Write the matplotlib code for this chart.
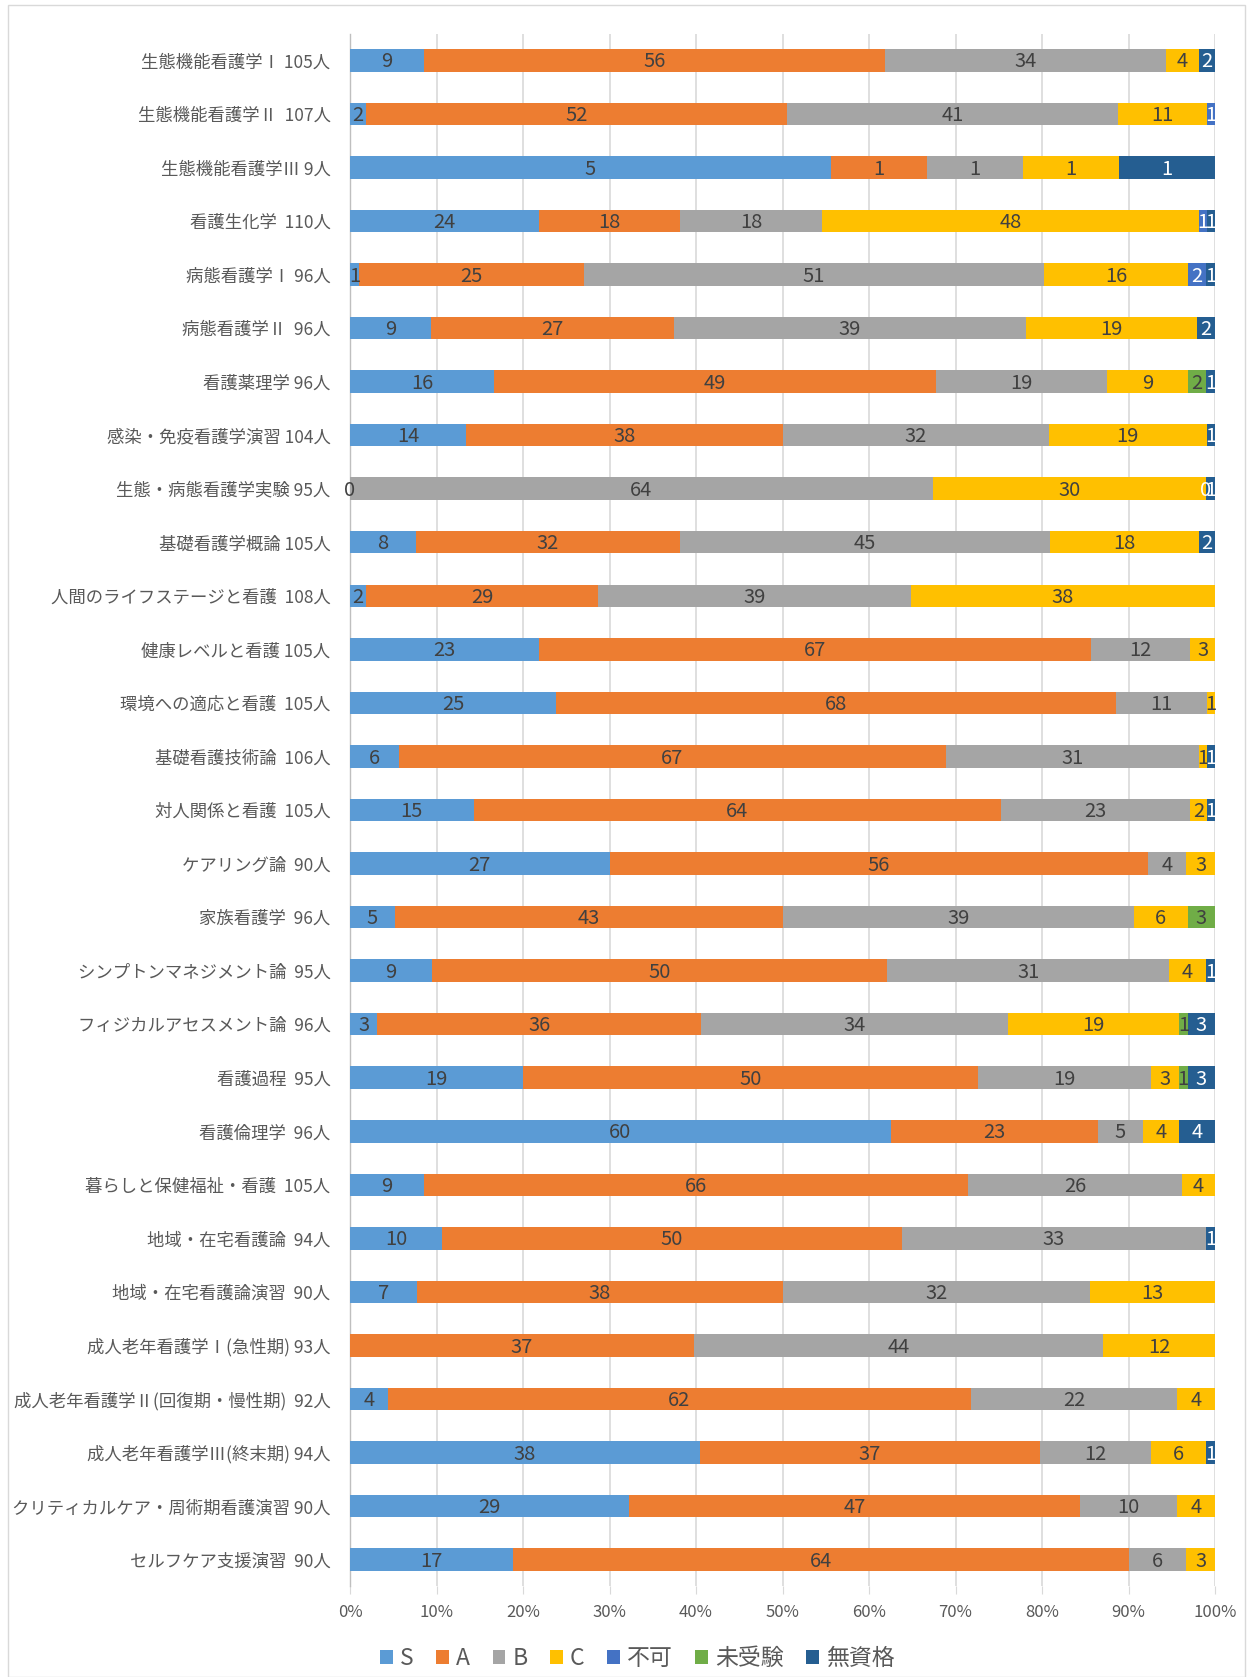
import matplotlib
matplotlib.use("Agg")
import matplotlib.pyplot as plt
from matplotlib.patches import Rectangle
import numpy as np

plt.rcParams['font.family'] = ['Noto Sans CJK JP', 'DejaVu Sans']

categories = [
    "生態機能看護学Ⅰ 105人", "生態機能看護学Ⅱ  107人", "生態機能看護学Ⅲ 9人", "看護生化学  110人",
    "病態看護学Ⅰ 96人", "病態看護学Ⅱ  96人", "看護薬理学 96人", "感染・免疫看護学演習 104人",
    "生態・病態看護学実験 95人", "基礎看護学概論 105人", "人間のライフステージと看護  108人",
    "健康レベルと看護 105人", "環境への適応と看護  105人", "基礎看護技術論  106人",
    "対人関係と看護  105人", "ケアリング論  90人", "家族看護学  96人",
    "シンプトンマネジメント論  95人", "フィジカルアセスメント論  96人", "看護過程  95人",
    "看護倫理学  96人", "暮らしと保健福祉・看護  105人", "地域・在宅看護論  94人",
    "地域・在宅看護論演習  90人", "成人老年看護学Ⅰ(急性期) 93人",
    "成人老年看護学Ⅱ(回復期・慢性期)  92人", "成人老年看護学Ⅲ(終末期) 94人",
    "クリティカルケア・周術期看護演習 90人", "セルフケア支援演習  90人",
]

# None = no segment / no label; 0 = zero value shown as a label
S    = [9, 2, 5, 24, 1, 9, 16, 14, 0, 8, 2, 23, 25, 6, 15, 27, 5, 9, 3, 19, 60, 9, 10, 7, None, 4, 38, 29, 17]
A    = [56, 52, 1, 18, 25, 27, 49, 38, None, 32, 29, 67, 68, 67, 64, 56, 43, 50, 36, 50, 23, 66, 50, 38, 37, 62, 37, 47, 64]
B    = [34, 41, 1, 18, 51, 39, 19, 32, 64, 45, 39, 12, 11, 31, 23, 4, 39, 31, 34, 19, 5, 26, 33, 32, 44, 22, 12, 10, 6]
C    = [4, 11, 1, 48, 16, 19, 9, 19, 30, 18, 38, 3, 1, 1, 2, 3, 6, 4, 19, 3, 4, 4, None, 13, 12, 4, 6, 4, 3]
FUKA = [None, 1, None, 1, 2, None, None, None, 0, None, None, None, None, None, None, None, None, None, None, None, None, None, None, None, None, None, None, None, None]
MIJU = [None, None, None, None, None, None, 2, None, None, None, None, None, None, None, None, None, 3, None, 1, 1, None, None, None, None, None, None, None, None, None]
MUSHI = [2, None, 1, 1, 1, 2, 1, 1, 1, 2, None, None, None, 1, 1, None, None, 1, 3, 3, 4, None, 1, None, None, None, 1, None, None]

series_names = ["S", "A", "B", "C", "不可", "未受験", "無資格"]
series = [S, A, B, C, FUKA, MIJU, MUSHI]
colors = ["#5B9BD5", "#ED7D31", "#A5A5A5", "#FFC000", "#4472C4", "#70AD47", "#255E91"]
label_colors = ["#404040", "#404040", "#404040", "#404040", "white", "#404040", "white"]
xticks = [0, 0.1, 0.2, 0.3, 0.4, 0.5, 0.6, 0.7, 0.8, 0.9, 1.0]
xticklabels = ["0%", "10%", "20%", "30%", "40%", "50%", "60%", "70%", "80%", "90%", "100%"]

fig = plt.figure(figsize=(12.5, 16.77), dpi=100)
fig.patches.append(Rectangle((0.006, 0.0), 0.99, 0.997, transform=fig.transFigure,
                             fill=False, edgecolor="#D9D9D9", linewidth=1.0))
ax = fig.add_axes([0.28, 0.054, 0.692, 0.926])

n = len(categories)
y = np.arange(n)
vals = np.array([[0 if v is None else v for v in s] for s in series], dtype=float)
totals = vals.sum(axis=0)
left = np.zeros(n)
for k, (name, s) in enumerate(zip(series_names, series)):
    frac = vals[k] / totals
    ax.barh(y, frac, left=left, height=0.42, color=colors[k], label=name, zorder=3)
    for i, v in enumerate(s):
        if v is None:
            continue
        cx = left[i] + frac[i] / 2
        ax.text(cx, y[i] + 0.03, str(v), ha="center", va="center", fontsize=14.5,
                color=label_colors[k], zorder=4)
    left += frac

ax.set_xlim(0, 1)
ax.set_ylim(n - 0.5, -0.5)
ax.set_yticks(y)
ax.set_yticklabels(categories, fontsize=12.5, color="#595959")
ax.set_xticks(xticks)
ax.set_xticklabels(xticklabels, fontsize=12, color="#595959")
ax.tick_params(axis="y", length=0, pad=14)
ax.tick_params(axis="x", length=6, color="#D9D9D9", pad=7)
ax.grid(axis="x", color="#D9D9D9", linewidth=1.2, zorder=0)
for side in ["top", "right", "bottom"]:
    ax.spines[side].set_visible(False)
ax.spines["left"].set_color("#BFBFBF")
ax.spines["left"].set_linewidth(1.0)

leg = fig.legend(loc="lower center", bbox_to_anchor=(0.51, -0.004), ncol=7, frameon=False,
                 fontsize=16.5, handlelength=0.55, handleheight=0.55, handletextpad=0.3,
                 columnspacing=1.0, borderaxespad=0.2)
for t in leg.get_texts():
    t.set_color("#595959")

fig.savefig("out.png", dpi=100)
